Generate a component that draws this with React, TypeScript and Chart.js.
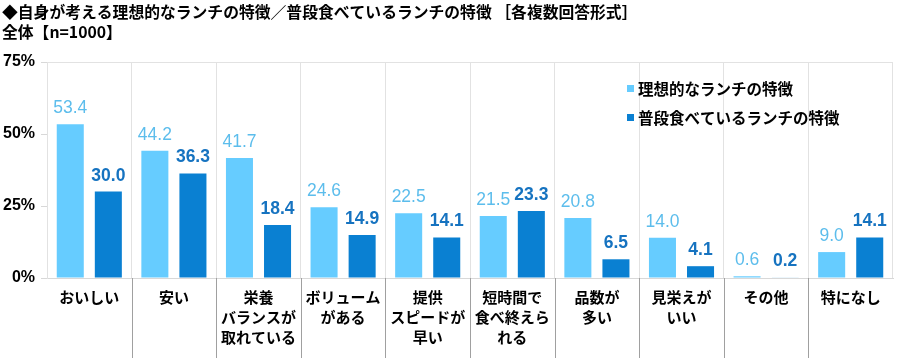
import React, { useEffect, useRef } from "react";
import { Chart, registerables } from "chart.js";

Chart.register(...registerables);

const categories: string[][] = [
  ["おいしい"],
  ["安い"],
  ["栄養", "バランスが", "取れている"],
  ["ボリューム", "がある"],
  ["提供", "スピードが", "早い"],
  ["短時間で", "食べ終えら", "れる"],
  ["品数が", "多い"],
  ["見栄えが", "いい"],
  ["その他"],
  ["特になし"],
];
const idealValues = [53.4, 44.2, 41.7, 24.6, 22.5, 21.5, 20.8, 14.0, 0.6, 9.0];
const usualValues = [30.0, 36.3, 18.4, 14.9, 14.1, 23.3, 6.5, 4.1, 0.2, 14.1];
const seriesNames = ["理想的なランチの特徴", "普段食べているランチの特徴"];
const yTicks = [0, 25, 50, 75];
const titleLines = [
  "◆自身が考える理想的なランチの特徴／普段食べているランチの特徴 ［各複数回答形式］",
  "全体【n=1000】",
];

const LIGHT = "#66CCFF";
const DARK = "#0A80D2";
const LIGHT_LABEL = "#5CBDEC";
const DARK_LABEL = "#1673C0";
const JP = '"Noto Sans CJK JP", "Noto Sans", sans-serif';
const NUM = '"Liberation Sans", Arial, sans-serif';

export default function App() {
  const ref = useRef<HTMLCanvasElement | null>(null);
  useEffect(() => {
    if (!ref.current) return;
    const overlay = {
      id: "overlay",
      afterDatasetsDraw(chart: any) {
        const ctx = chart.ctx;
        ctx.save();
        // value labels
        chart.data.datasets.forEach((ds: any, di: number) => {
          const meta = chart.getDatasetMeta(di);
          ctx.font = (di === 1 ? "bold " : "") + "17.5px " + NUM;
          ctx.fillStyle = di === 0 ? LIGHT_LABEL : DARK_LABEL;
          ctx.textAlign = "center";
          ctx.textBaseline = "alphabetic";
          meta.data.forEach((bar: any, i: number) => {
            ctx.fillText(Number(ds.data[i]).toFixed(1), bar.x, bar.y - 11);
          });
        });
        // separators below axis
        const xs = chart.scales.x;
        const area = chart.chartArea;
        ctx.strokeStyle = "#A0A0A0";
        ctx.lineWidth = 1;
        for (let i = 1; i < categories.length; i++) {
          const x = Math.round((xs.getPixelForValue(i - 1) + xs.getPixelForValue(i)) / 2) + 0.5;
          ctx.beginPath();
          ctx.moveTo(x, area.bottom);
          ctx.lineTo(x, chart.height);
          ctx.stroke();
        }
        // title
        ctx.fillStyle = "#000";
        ctx.textAlign = "left";
        ctx.textBaseline = "middle";
        ctx.font = "bold 15.8px " + JP;
        ctx.fillText(titleLines[0], 2, 12);
        ctx.fillText(titleLines[1], 2, 32);
        // legend
        const lx = 627;
        const ly = [88, 117];
        chart.data.datasets.forEach((ds: any, di: number) => {
          ctx.fillStyle = ds.backgroundColor;
          ctx.fillRect(lx, ly[di] - 3, 7, 7);
          ctx.fillStyle = "#000";
          ctx.font = "bold 15.5px " + JP;
          ctx.fillText(ds.label, lx + 11, ly[di] + 1);
        });
        ctx.restore();
      },
    };
    const chart = new Chart(ref.current, {
      type: "bar",
      data: {
        labels: categories,
        datasets: [
          { label: seriesNames[0], data: idealValues, backgroundColor: LIGHT, categoryPercentage: 0.9, barPercentage: 0.71 },
          { label: seriesNames[1], data: usualValues, backgroundColor: DARK, categoryPercentage: 0.9, barPercentage: 0.71 },
        ],
      },
      options: {
        animation: false,
        responsive: false,
        maintainAspectRatio: false,
        layout: { padding: { top: 62, right: 7, bottom: 0, left: 0 } },
        plugins: { legend: { display: false }, tooltip: { enabled: false }, title: { display: false } },
        scales: {
          x: {
            grid: { color: "#E2E2E2", drawTicks: false, offset: true },
            border: { color: "#D8D8D8" },
            ticks: {
              color: "#000",
              font: { family: JP, size: 15, weight: "bold", lineHeight: "20px" } as any,
              padding: 9,
              maxRotation: 0,
              autoSkip: false,
            },
            afterFit(scale: any) {
              scale.height = 80;
            },
          },
          y: {
            min: 0,
            max: 75,
            afterBuildTicks(scale: any) {
              scale.ticks = yTicks.map((v) => ({ value: v }));
            },
            grid: {
              color: (c: any) => (c.tick && c.tick.value === 75 ? "#E2E2E2" : "rgba(0,0,0,0)"),
              tickColor: "#D8D8D8",
              tickLength: 6,
            },
            border: { color: "#E2E2E2" },
            ticks: {
              color: "#000",
              font: { family: NUM, size: 16, weight: "bold" },
              padding: 6,
              callback: (v: any) => v + "%",
            },
            afterFit(scale: any) {
              scale.width = 47;
            },
          },
        },
      },
      plugins: [overlay],
    });
    return () => chart.destroy();
  }, []);
  return (
    <div style={{ position: "fixed", left: 0, top: 0, width: 900, height: 358, background: "#fff" }}>
      <canvas ref={ref} width={900} height={358} style={{ width: 900, height: 358 }} />
    </div>
  );
}
